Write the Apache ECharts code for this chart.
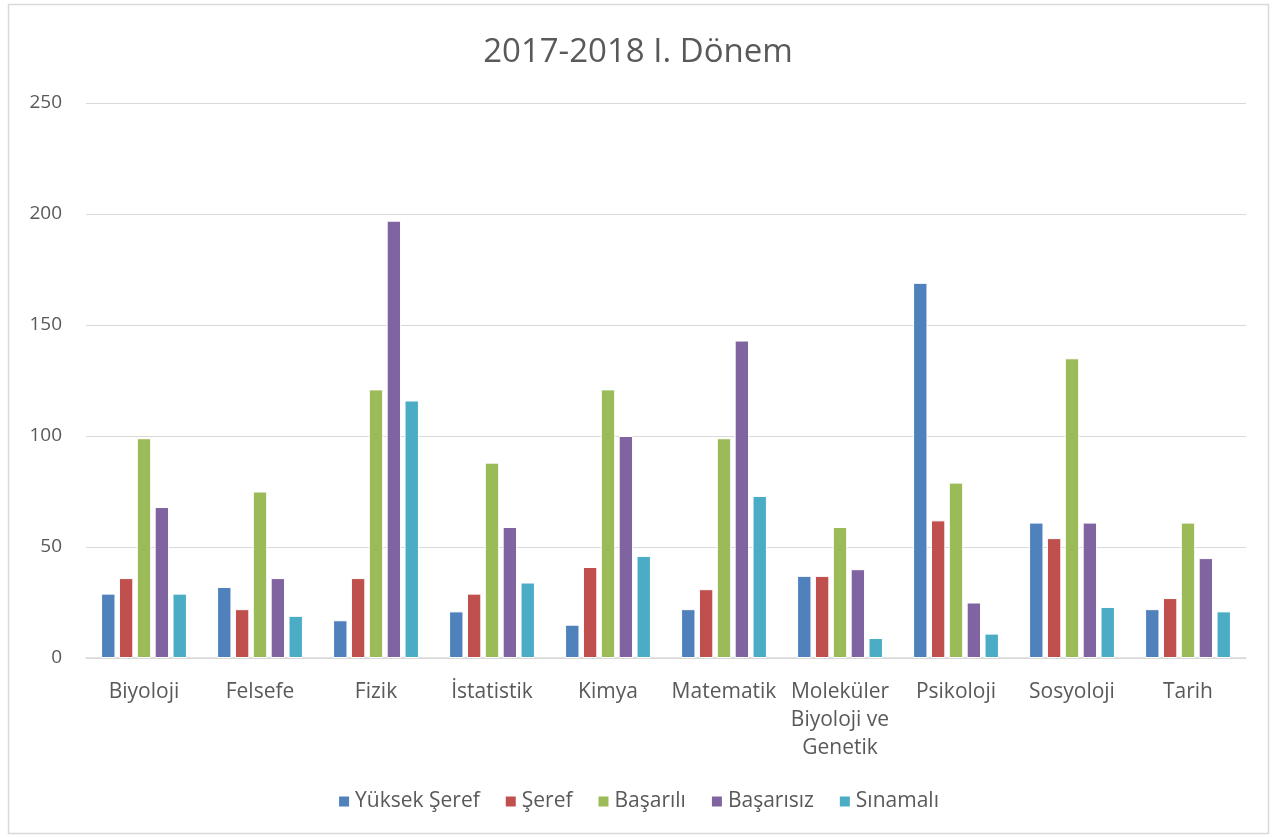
<!DOCTYPE html>
<html>
<head>
<meta charset="utf-8">
<script src="https://cdn.jsdelivr.net/npm/echarts@6/dist/echarts.min.js"></script>
<style>
  html, body { margin: 0; padding: 0; background: #fff; }
  #chart { width: 1276px; height: 837px; }
</style>
</head>
<body>
<div id="chart"></div>
<script>
// bölümler (x ekseni)
const categories = ['Biyoloji', 'Felsefe', 'Fizik', 'İstatistik', 'Kimya', 'Matematik',
  'Moleküler\nBiyoloji ve\nGenetik', 'Psikoloji', 'Sosyoloji', 'Tarih']

// seri değerleri
const yuksekSeref = [29, 32, 17, 21, 15, 22, 37, 169, 61, 22]
const seref = [36, 22, 36, 29, 41, 31, 37, 62, 54, 27]
const basarili = [99, 75, 121, 88, 121, 99, 59, 79, 135, 61]
const basarisiz = [68, 36, 197, 59, 100, 143, 40, 25, 61, 45]
const sinamali = [29, 19, 116, 34, 46, 73, 9, 11, 23, 21]

const seriesNames = ['Yüksek Şeref', 'Şeref', 'Başarılı', 'Başarısız', 'Sınamalı']
const seriesData = [yuksekSeref, seref, basarili, basarisiz, sinamali]
const colors = ['#4f81bd', '#c0504d', '#9bbb59', '#8064a2', '#4bacc6']

const yTicks = { min: 0, max: 250, interval: 50 }

const font = '"Open Sans", "Liberation Sans", sans-serif'

const chart = echarts.init(document.getElementById('chart'))

const option = {
  animation: false,
  color: colors,
  textStyle: { fontFamily: font },
  title: {
    text: '2017-2018 I. Dönem',
    left: 'center',
    top: 31,
    textStyle: { fontFamily: font, fontSize: 33, fontWeight: 'normal', color: '#595959' }
  },
  graphic: [{
    type: 'rect',
    shape: { x: 8.5, y: 4.5, width: 1260, height: 829 },
    style: { fill: 'none', stroke: '#d9d9d9', lineWidth: 1.5 },
    silent: true
  }],
  legend: {
    data: seriesNames,
    bottom: 20,
    left: 'center',
    itemWidth: 12,
    itemHeight: 12,
    itemGap: 24,
    icon: 'rect',
    textStyle: { fontFamily: font, fontSize: 21, color: '#595959' }
  },
  grid: {
    left: 86,
    right: 30,
    top: 103,
    bottom: 179,
    containLabel: false
  },
  xAxis: {
    type: 'category',
    data: categories,
    axisTick: { show: false },
    axisLine: { lineStyle: { color: '#d9d9d9', width: 1.5 } },
    axisLabel: {
      interval: 0,
      margin: 20,
      fontFamily: font,
      fontSize: 21,
      lineHeight: 28,
      color: '#595959'
    }
  },
  yAxis: {
    type: 'value',
    min: yTicks.min,
    max: yTicks.max,
    interval: yTicks.interval,
    axisLine: { show: false },
    axisTick: { show: false },
    splitLine: { lineStyle: { color: '#d9d9d9', width: 1 } },
    axisLabel: {
      margin: 24,
      fontFamily: font,
      fontSize: 19,
      color: '#595959'
    }
  },
  series: seriesNames.map((name, i) => ({
    name: name,
    type: 'bar',
    data: seriesData[i],
    barGap: '24%',
    barCategoryGap: '26%',
    itemStyle: { borderColor: '#fff', borderWidth: 1 }
  }))
}

chart.setOption(option)
</script>
</body>
</html>
